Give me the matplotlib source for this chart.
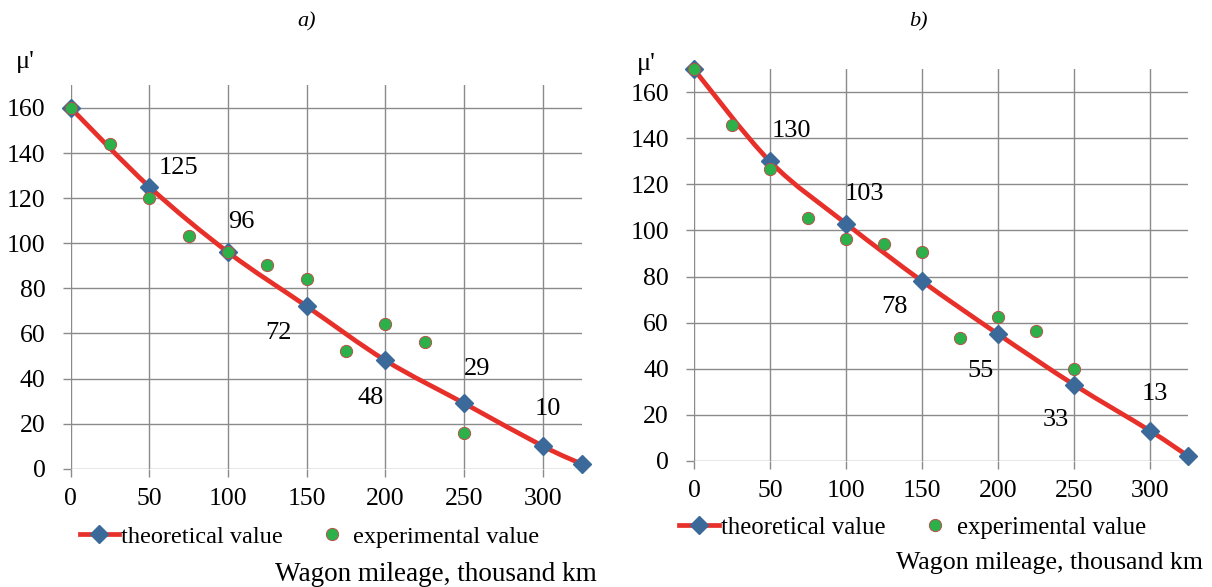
import matplotlib
matplotlib.use('agg')
import matplotlib.pyplot as plt
from matplotlib.path import Path
from matplotlib.patches import PathPatch
from matplotlib.lines import Line2D

plt.rcParams['font.family'] = ['Liberation Serif', 'DejaVu Serif']
plt.rcParams['font.serif'] = ['Liberation Serif', 'DejaVu Serif']

# data
mileage = [0, 50, 100, 150, 200, 250, 300, 325]
theory_a = [160, 125, 96, 72, 48, 29, 10, 2]
theory_b = [170, 130, 103, 78, 55, 33, 13, 2]
exp_mileage = [0, 25, 50, 75, 100, 125, 150, 175, 200, 225, 250]
exp_a = [160, 144, 120, 103, 96, 90.5, 84, 52, 64, 56, 16]
exp_b = [170, 146, 126.5, 105.5, 96.5, 94, 90.5, 53.5, 62.5, 56.5, 40]
x_ticks = [0, 50, 100, 150, 200, 250, 300]
y_ticks = [0, 20, 40, 60, 80, 100, 120, 140, 160]

# label placement (pixels from the marker), only styling
offs_a = [(29, 19), (13, 30), (-28, -27), (-15, -38), (13, 34), (5, 37)]
offs_b = [(21, 30), (18, 30), (-27, -26), (-17, -37), (-18, -35), (5, 37)]

RED = '#e8302a'
BLUE = '#3b6a9a'
GREEN = '#2bb04a'
GRID = '#8a8a8a'
SERIF = 'Liberation Serif'


def smooth_path(xs, ys):
    # excel-like smoothed line: cubic bezier through the points
    pts = list(zip(xs, ys))
    verts = [pts[0]]
    codes = [Path.MOVETO]
    n = len(pts)
    for i in range(n - 1):
        p0 = pts[i - 1] if i > 0 else pts[i]
        p1 = pts[i]
        p2 = pts[i + 1]
        p3 = pts[i + 2] if i + 2 < n else pts[i + 1]
        c1 = (p1[0] + (p2[0] - p0[0]) / 6, p1[1] + (p2[1] - p0[1]) / 6)
        c2 = (p2[0] - (p3[0] - p1[0]) / 6, p2[1] - (p3[1] - p1[1]) / 6)
        verts += [c1, c2, p2]
        codes += [Path.CURVE4] * 3
    return Path(verts, codes)


def draw_panel(ax, theory, exp, offs, fs, legend_xy, xlabel_xy, mu_xy,
               leg_fs, xl_fs):
    ax.set_xlim(0, 325)
    ax.set_ylim(0, 170)
    for s in ax.spines.values():
        s.set_visible(False)
    ax.set_xticks(x_ticks)
    ax.set_xticklabels([str(v) for v in x_ticks], fontfamily=SERIF, fontsize=fs)
    ax.set_yticks(y_ticks)
    ax.set_yticklabels([str(v) for v in y_ticks], fontfamily=SERIF, fontsize=fs)
    ax.grid(True, color=GRID, linewidth=1.0)
    ax.tick_params(direction='out', length=6, width=1.0, color=GRID, pad=8)
    ax.tick_params(axis='y', pad=12)
    ax.set_axisbelow(True)

    ax.add_patch(PathPatch(smooth_path(mileage, theory), facecolor='none',
                           edgecolor=RED, linewidth=3.4, zorder=3,
                           capstyle='round'))
    ax.plot(mileage, theory, linestyle='none', marker='D', markersize=9.5,
            color=BLUE, markeredgecolor=BLUE, zorder=4, clip_on=False)
    ax.plot(exp_mileage, exp, linestyle='none', marker='o', markersize=8.8,
            markerfacecolor=GREEN, markeredgecolor='#b5524a',
            markeredgewidth=0.7, zorder=5, clip_on=False)

    for x, y, (dx, dy) in zip(mileage[1:-1], theory[1:-1], offs):
        ax.annotate(str(y), (x, y), xytext=(dx, dy), textcoords='offset pixels',
                    ha='center', va='center', fontsize=fs + 0.5,
                    fontfamily=SERIF, zorder=6)

    handles = [
        Line2D([], [], color=RED, linewidth=3.4, marker='D', markersize=9.5,
               markerfacecolor=BLUE, markeredgecolor=BLUE),
        Line2D([], [], linestyle='none', marker='o', markersize=8.8,
               markerfacecolor=GREEN, markeredgecolor='#b5524a',
               markeredgewidth=0.7),
    ]
    ax.legend(handles, ['theoretical value', 'experimental value'],
              loc='center left', bbox_to_anchor=legend_xy, ncol=2,
              frameon=False, borderpad=0, borderaxespad=0,
              prop={'family': SERIF, 'size': leg_fs},
              handlelength=1.6, handletextpad=0.1, columnspacing=1.2)

    ax.text(xlabel_xy[0], xlabel_xy[1], 'Wagon mileage, thousand km',
            transform=ax.transAxes, ha='right', va='center',
            fontsize=xl_fs, fontfamily=SERIF)
    ax.text(mu_xy[0], mu_xy[1], "μ'", transform=ax.transAxes,
            ha='center', va='center', fontsize=19, fontfamily=SERIF)


fig = plt.figure(figsize=(12.12, 5.87), dpi=100)
ax_a = fig.add_axes([0.0583, 0.2015, 0.4221, 0.6531])
ax_b = fig.add_axes([0.5726, 0.2152, 0.4076, 0.6667])

draw_panel(ax_a, theory_a, exp_a, offs_a, 18.5, (0.018, -0.178),
           (1.029, -0.275), (-0.088, 1.061), 17.5, 19.5)
draw_panel(ax_b, theory_b, exp_b, offs_b, 18.5, (-0.030, -0.172),
           (1.030, -0.261), (-0.097, 1.0135), 17.8, 18.6)

fig.text(0.2533, 0.9625, 'a)', style='italic', fontsize=16, ha='center',
         va='center', fontfamily=SERIF)
fig.text(0.758, 0.9625, 'b)', style='italic', fontsize=16, ha='center',
         va='center', fontfamily=SERIF)

fig.savefig('out.png', dpi=100)
